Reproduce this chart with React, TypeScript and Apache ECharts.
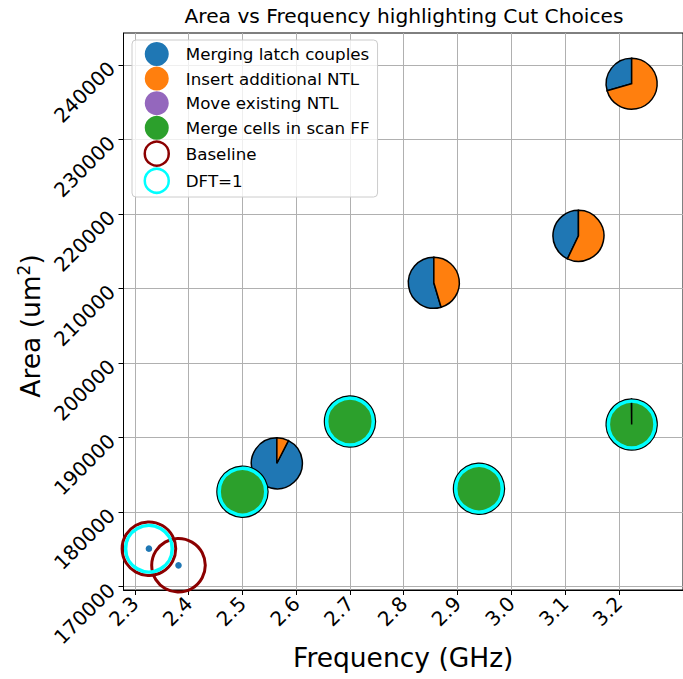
import React, { useEffect, useRef } from "react";
import * as echarts from "echarts";

// ---- data ----
const freq = [2.326, 2.381, 2.5, 2.564, 2.7, 2.856, 2.94, 3.125, 3.224, 3.224];
const area = [175100, 172870, 182750, 186560, 192170, 210780, 183150, 217080, 237480, 191760];
const merging = [1, 1, 0, 0.925, 0, 0.546, 0, 0.429, 0.294, 0.002];
const insertNtl = [0, 0, 0, 0.075, 0, 0.454, 0, 0.571, 0.706, 0];
const moveNtl = [0, 0, 0, 0, 0, 0, 0, 0, 0, 0];
const mergeScan = [0, 0, 1, 0, 1, 0, 1, 0, 0, 0.998];
const baseline = [1, 1, 0, 0, 0, 0, 0, 0, 0, 0];
const dft = [1, 0, 1, 0, 1, 0, 1, 0, 0, 1];

const xTicks = [2.3, 2.4, 2.5, 2.6, 2.7, 2.8, 2.9, 3.0, 3.1, 3.2];
const yTicks = [170000, 180000, 190000, 200000, 210000, 220000, 230000, 240000];

const categories = ["Merging latch couples", "Insert additional NTL", "Move existing NTL", "Merge cells in scan FF"];
const catColors = ["#1f77b4", "#ff7f0e", "#9467bd", "#2ca02c"];
const fractions = [merging, insertNtl, moveNtl, mergeScan];

const FONT = "DejaVu Sans";

export default function App() {
  const ref = useRef<HTMLDivElement>(null);
  useEffect(() => {
    if (!ref.current) return;
    const chart = echarts.init(ref.current, null, { renderer: "svg" });
    const PIE_R = 25.5;

    const sliceSeries = categories.map((name, k) => {
      const data = freq.map((f, i) => {
        let cum = 0;
        for (let j = 0; j < k; j++) cum += fractions[j][i];
        return [f, area[i], fractions[k][i], cum, baseline[i]];
      });
      const color = catColors[k];
      return {
        type: "custom",
        name,
        coordinateSystem: "cartesian2d",
        clip: false,
        itemStyle: { color },
        encode: { x: 0, y: 1 },
        data,
        renderItem: (params: any, api: any) => {
          const frac = api.value(2);
          if (!(frac > 0)) return null;
          const c = api.value(3);
          const pt = api.coord([api.value(0), api.value(1)]);
          const isBase = api.value(4) === 1;
          if (isBase) {
            return { type: "circle", shape: { cx: pt[0], cy: pt[1], r: 3.3 }, style: { fill: color } };
          }
          if (frac >= 0.9999) {
            return {
              type: "circle",
              shape: { cx: pt[0], cy: pt[1], r: PIE_R },
              style: { fill: color, stroke: "#000", lineWidth: 1.5 },
            };
          }
          return {
            type: "sector",
            shape: {
              cx: pt[0],
              cy: pt[1],
              r0: 0,
              r: PIE_R,
              startAngle: -Math.PI / 2 - 2 * Math.PI * (c + frac),
              endAngle: -Math.PI / 2 - 2 * Math.PI * c,
              clockwise: true,
            },
            style: { fill: color, stroke: "#000", lineWidth: 1.5 },
          };
        },
      };
    });

    const ringSeries = (name: string, flags: number[], color: string, r: number, w: number) => ({
      type: "custom",
      name,
      coordinateSystem: "cartesian2d",
      clip: false,
      itemStyle: { color },
      encode: { x: 0, y: 1 },
      data: freq.map((f, i) => [f, area[i], flags[i]]),
      renderItem: (params: any, api: any) => {
        if (api.value(2) !== 1) return null;
        const pt = api.coord([api.value(0), api.value(1)]);
        return {
          type: "circle",
          shape: { cx: pt[0], cy: pt[1], r },
          style: { fill: "none", stroke: color, lineWidth: w },
        };
      },
    });

    const legendData: any[] = categories.map((name, k) => ({
      name,
      icon: "circle",
      itemStyle: { color: catColors[k], borderWidth: 0 },
    }));
    legendData.push({
      name: "Baseline",
      icon: "circle",
      itemStyle: { color: "rgba(0,0,0,0)", borderColor: "#8b0000", borderWidth: 2.5 },
    });
    legendData.push({
      name: "DFT=1",
      icon: "circle",
      itemStyle: { color: "rgba(0,0,0,0)", borderColor: "#00ffff", borderWidth: 2.5 },
    });

    chart.setOption({
      animation: false,
      textStyle: { fontFamily: FONT },
      grid: {
        left: 123.5,
        top: 33,
        width: 561,
        bottom: 89,
        show: true,
        borderColor: "#000",
        borderWidth: 1,
        backgroundColor: "#fff",
      },
      legend: {
        orient: "vertical",
        left: 132,
        top: 40,
        itemWidth: 24,
        itemHeight: 24,
        itemGap: 0.6,
        padding: [2, 8, 3, 11.5],
        backgroundColor: "rgba(255,255,255,0.8)",
        borderColor: "#cccccc",
        borderWidth: 1,
        borderRadius: 4,
        selectedMode: false,
        textStyle: { fontSize: 16.7, color: "#000", fontFamily: FONT, padding: [0, 0, 0, 12] },
        data: legendData,
      },
      xAxis: {
        type: "value",
        min: 2.2787,
        max: 3.3195,
        name: "Frequency (GHz)",
        nameLocation: "middle",
        nameGap: 54,
        nameTextStyle: { fontSize: 26.5, color: "#000", fontFamily: FONT },
        axisLine: { show: true, onZero: false, lineStyle: { color: "#000", width: 1 } },
        axisTick: { show: true, length: 5, lineStyle: { color: "#000", width: 1 }, customValues: xTicks },
        axisLabel: {
          customValues: xTicks,
          rotate: 45,
          fontSize: 20,
          color: "#000",
          margin: 10,
          fontFamily: FONT,
          formatter: (v: number) => v.toFixed(1),
        },
        splitLine: { show: true, lineStyle: { color: "#b0b0b0", width: 1 } },
      },
      yAxis: {
        type: "value",
        min: 169557,
        max: 244294,
        axisLine: { show: true, onZero: false, lineStyle: { color: "#000", width: 1 } },
        axisTick: { show: true, length: 5, lineStyle: { color: "#000", width: 1 }, customValues: yTicks },
        axisLabel: {
          customValues: yTicks,
          rotate: 45,
          fontSize: 20,
          color: "#000",
          margin: 12,
          fontFamily: FONT,
          formatter: (v: number) => String(Math.round(v)),
        },
        splitLine: { show: true, lineStyle: { color: "#b0b0b0", width: 1 } },
      },
      graphic: [
        {
          type: "text",
          x: 404,
          y: 16,
          style: {
            text: "Area vs Frequency highlighting Cut Choices",
            fontFamily: FONT,
            fontSize: 20.2,
            fill: "#000",
            textAlign: "center",
            textVerticalAlign: "middle",
          },
        },
        {
          type: "text",
          x: 30,
          y: 326,
          rotation: Math.PI / 2,
          style: {
            text: "Area (um{s|2})",
            fontFamily: FONT,
            fontSize: 26.5,
            fill: "#000",
            textAlign: "center",
            textVerticalAlign: "middle",
            rich: {
              s: { fontSize: 17, fontFamily: FONT, fill: "#000", verticalAlign: "top", lineHeight: 30 },
            },
          },
        },
      ],
      series: [
        ...sliceSeries,
        ringSeries("Baseline", baseline, "#8b0000", 26.8, 3),
        ringSeries("DFT=1", dft, "#00ffff", 23.3, 3.5),
      ],
    } as any);
    return () => chart.dispose();
  }, []);
  return (
    <div
      ref={ref}
      style={{ position: "fixed", left: 0, top: 0, width: 683, height: 679, background: "#fff" }}
    />
  );
}
